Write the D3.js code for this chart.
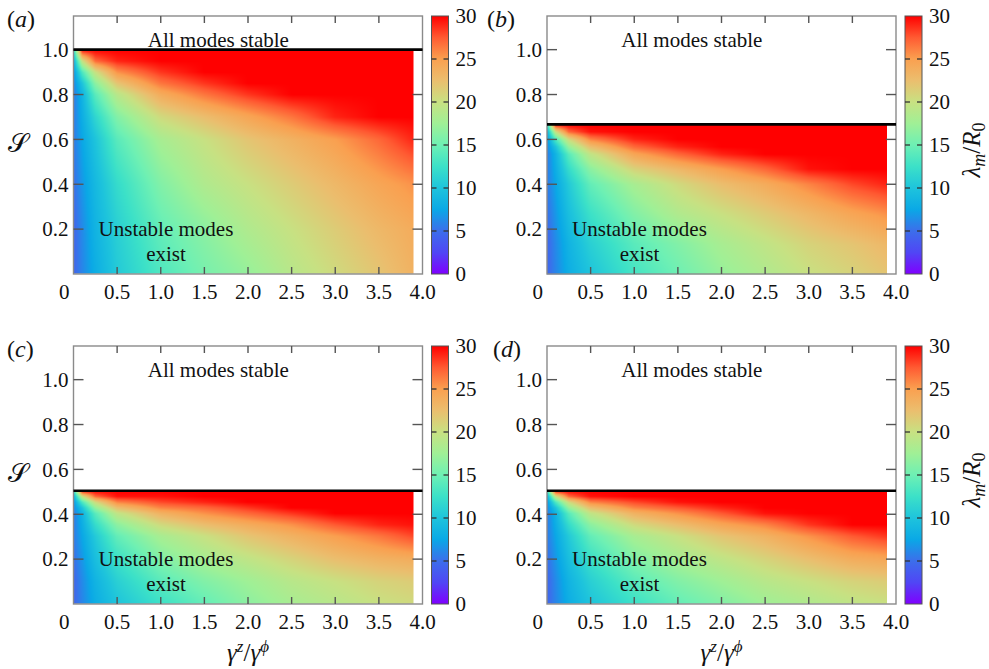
<!DOCTYPE html>
<html>
<head>
<meta charset="utf-8">
<script src="https://cdn.jsdelivr.net/npm/d3@7"></script>
<style>
body { margin: 0; background: #fff; }
text { font-family: "Liberation Serif", "Times New Roman", serif; fill: #111; }
</style>
</head>
<body>
<div id="chart"></div>
<script>
var xCols = [0, 0.1, 0.25, 0.5, 1.0, 1.5, 2.0, 2.5, 3.0, 3.5, 3.9];
var uRows = [0, 0.2, 0.4, 0.6, 0.7, 0.8, 0.85, 0.9, 0.95, 1.0];

var panelLetters = ["a", "b", "c", "d"];
var stabilityLimits = [1.0, 0.667, 0.505, 0.505];

var gridA = [
	[4.5, 6.0, 8.0, 10.5, 13.5, 15.5, 17.0, 19.0, 20.5, 22.0, 23.5],
	[4.5, 6.2, 8.5, 11.0, 14.5, 16.5, 18.5, 20.0, 21.5, 23.0, 24.0],
	[5.0, 6.8, 9.0, 12.0, 16.0, 18.5, 20.0, 21.5, 23.0, 24.5, 25.5],
	[5.5, 7.5, 10.0, 14.0, 18.0, 20.0, 22.0, 23.5, 25.0, 27.0, 29.0],
	[5.5, 8.0, 11.5, 16.0, 20.5, 22.5, 24.5, 26.5, 29.0, 30, 30],
	[5.5, 8.5, 14.0, 19.0, 24.0, 26.5, 28.5, 30, 30, 30, 30],
	[6.0, 10.0, 16.5, 22.0, 26.5, 28.5, 30, 30, 30, 30, 30],
	[6.5, 13.5, 20.0, 25.5, 28.5, 30, 30, 30, 30, 30, 30],
	[8.0, 20.0, 27.0, 29.0, 30, 30, 30, 30, 30, 30, 30],
	[12.0, 30, 30, 30, 30, 30, 30, 30, 30, 30, 30]
];
var gridB = [
	[4.5, 6.0, 8.0, 10.0, 13.0, 15.0, 17.0, 18.5, 20.0, 21.0, 22.0],
	[4.5, 6.2, 8.5, 11.0, 14.0, 16.0, 18.0, 19.5, 21.0, 22.0, 23.0],
	[5.0, 6.8, 9.5, 12.5, 16.0, 18.5, 20.0, 21.5, 23.0, 24.5, 25.5],
	[5.5, 7.5, 10.5, 14.5, 18.0, 20.5, 22.5, 24.0, 26.0, 28.0, 29.0],
	[5.5, 8.0, 12.0, 16.5, 21.0, 23.0, 25.0, 27.0, 29.5, 30, 30],
	[5.5, 8.5, 14.0, 19.5, 24.5, 27.0, 29.0, 30, 30, 30, 30],
	[6.0, 10.0, 17.0, 22.5, 27.0, 29.0, 30, 30, 30, 30, 30],
	[6.5, 13.5, 20.5, 26.0, 29.0, 30, 30, 30, 30, 30, 30],
	[8.0, 20.0, 27.0, 29.5, 30, 30, 30, 30, 30, 30, 30],
	[12.0, 30, 30, 30, 30, 30, 30, 30, 30, 30, 30]
];
var gridC = [
	[4.5, 6.0, 8.0, 10.0, 12.5, 14.5, 16.5, 18.0, 19.0, 20.0, 20.5],
	[4.5, 6.2, 8.5, 11.0, 14.0, 16.0, 17.5, 19.0, 20.0, 21.0, 21.5],
	[5.0, 6.8, 9.5, 12.5, 16.0, 18.0, 19.5, 21.0, 22.5, 23.5, 24.0],
	[5.5, 7.5, 10.5, 14.5, 18.0, 20.0, 22.0, 23.5, 25.0, 26.5, 28.0],
	[5.5, 8.0, 12.0, 16.5, 20.5, 22.5, 24.0, 25.5, 27.5, 29.0, 29.5],
	[5.5, 8.5, 14.0, 19.5, 23.5, 25.5, 27.0, 28.5, 30, 30, 30],
	[6.0, 10.0, 17.0, 22.5, 26.0, 27.0, 28.5, 30, 30, 30, 30],
	[6.5, 13.5, 20.5, 26.0, 28.0, 29.0, 30, 30, 30, 30, 30],
	[8.0, 20.0, 27.0, 29.5, 29.5, 30, 30, 30, 30, 30, 30],
	[12.0, 30, 30, 30, 30, 30, 30, 30, 30, 30, 30]
];
var gridD = [
	[4.5, 6.0, 8.0, 10.0, 12.5, 14.5, 16.0, 17.5, 18.5, 19.5, 20.0],
	[4.5, 6.2, 8.5, 11.0, 14.0, 16.0, 17.5, 19.0, 20.0, 21.0, 21.5],
	[5.0, 6.8, 9.5, 12.5, 16.0, 18.0, 19.5, 21.0, 22.5, 24.0, 24.5],
	[5.5, 7.5, 10.5, 14.5, 18.0, 20.0, 22.0, 23.5, 25.5, 27.5, 28.5],
	[5.5, 8.0, 12.0, 16.5, 20.5, 22.5, 24.5, 26.0, 28.5, 30, 30],
	[5.5, 8.5, 14.0, 19.5, 23.5, 25.5, 27.5, 29.5, 30, 30, 30],
	[6.0, 10.0, 17.0, 22.5, 26.0, 27.5, 29.0, 30, 30, 30, 30],
	[6.5, 13.5, 20.5, 26.0, 28.0, 29.5, 30, 30, 30, 30, 30],
	[8.0, 20.0, 27.0, 29.5, 30, 30, 30, 30, 30, 30, 30],
	[12.0, 30, 30, 30, 30, 30, 30, 30, 30, 30, 30]
];
var grids = [gridA, gridB, gridC, gridD];

//Ticks
var xTicks = [0, 0.5, 1.0, 1.5, 2.0, 2.5, 3.0, 3.5, 4.0];
var xTickLabels = ["0", "0.5", "1.0", "1.5", "2.0", "2.5", "3.0", "3.5", "4.0"];
var yTicks = [0.2, 0.4, 0.6, 0.8, 1.0];
var yTickLabels = ["0.2", "0.4", "0.6", "0.8", "1.0"];
var cbTicks = [0, 5, 10, 15, 20, 25, 30];

//Rainbow colour stops
var colorDomain = [0, 2.5, 5, 7.5, 10, 12.5, 15, 17.5, 20, 22.5, 25, 27.5, 30];
var colorRange = ["#7f00ff", "#5046f5", "#3c6eeb", "#0aa8e6", "#1ec4dc", "#3ce1c8", "#6ef0b4", "#a0f096", "#c8e182", "#ebbe6e", "#faa050", "#ff5a32", "#ff0000"];
var color = d3.scaleLinear().domain(colorDomain).range(colorRange).clamp(true);

//Standard margin praxis
var totalWidth = 989, totalHeight = 669;
var plotWidth = 349, plotHeight = 258;
var colLeft = [73.5, 547], rowTop = [16, 346];

var svg = d3.select("#chart")
	.append("svg")
	.attr("width", totalWidth)
	.attr("height", totalHeight);

//Colorbar gradient
var defs = svg.append("defs");
var grad = defs.append("linearGradient")
	.attr("id", "cbGrad")
	.attr("x1", 0).attr("y1", 1).attr("x2", 0).attr("y2", 0);
for (var k = 0; k <= 60; k++) {
	grad.append("stop")
		.attr("offset", (k / 60))
		.attr("stop-color", color(30 * k / 60));
}

//Find the cell and fraction of v in arr
function locate(arr, v) {
	var i = d3.bisectRight(arr, v) - 1;
	if (i < 0) i = 0;
	if (i > arr.length - 2) i = arr.length - 2;
	var t = (v - arr[i]) / (arr[i + 1] - arr[i]);
	return [i, Math.max(0, Math.min(1, t))];
}

function gridValue(grid, xv, uv) {
	var cx = locate(xCols, xv), cy = locate(uRows, uv);
	var i = cx[0], tx = cx[1], j = cy[0], ty = cy[1];
	var a = grid[j][i] * (1 - tx) + grid[j][i + 1] * tx;
	var b = grid[j + 1][i] * (1 - tx) + grid[j + 1][i + 1] * tx;
	return a * (1 - ty) + b * ty;
}

function drawPanel(p) {
	var col = p % 2, row = Math.floor(p / 2);
	var left = colLeft[col], top = rowTop[row];
	var sMax = stabilityLimits[p];
	var grid = grids[p];

	var x = d3.scaleLinear().domain([0, 4.0]).range([left, left + plotWidth]);
	var y = d3.scaleLinear().domain([0, 1.15]).range([top + plotHeight, top]);

	var g = svg.append("g").attr("class", "panel");

	//Heatmap drawn to a canvas then placed as an image
	var x0 = x(0), x1 = x(xCols[xCols.length - 1]);
	var y0 = y(sMax), y1 = y(0);
	var w = Math.round(x1 - x0), h = Math.round(y1 - y0);
	var canvas = document.createElement("canvas");
	canvas.width = w; canvas.height = h;
	var ctx = canvas.getContext("2d");
	var img = ctx.createImageData(w, h);
	for (var j = 0; j < h; j++) {
		var sv = y.invert(y0 + j + 0.5);
		var uv = sv / sMax;
		for (var i = 0; i < w; i++) {
			var xv = x.invert(x0 + i + 0.5);
			var c = d3.rgb(color(gridValue(grid, xv, uv)));
			var idx = (j * w + i) * 4;
			img.data[idx] = c.r; img.data[idx + 1] = c.g; img.data[idx + 2] = c.b; img.data[idx + 3] = 255;
		}
	}
	ctx.putImageData(img, 0, 0);
	g.append("image")
		.attr("x", x0).attr("y", y0)
		.attr("width", w).attr("height", h)
		.attr("preserveAspectRatio", "none")
		.attr("href", canvas.toDataURL());

	//Frame
	g.append("rect")
		.attr("x", left).attr("y", top)
		.attr("width", plotWidth).attr("height", plotHeight)
		.attr("fill", "none")
		.attr("stroke", "#8a8a8a")
		.attr("stroke-width", 1.4);

	//Inward ticks on all four sides
	var inner = xTicks.slice(1, xTicks.length - 1);
	inner.forEach(function(t) {
		g.append("line").attr("x1", x(t)).attr("x2", x(t))
			.attr("y1", top + plotHeight).attr("y2", top + plotHeight - 7)
			.attr("stroke", "#555").attr("stroke-width", 1.4);
		g.append("line").attr("x1", x(t)).attr("x2", x(t))
			.attr("y1", top).attr("y2", top + 7)
			.attr("stroke", "#555").attr("stroke-width", 1.4);
	});
	yTicks.forEach(function(t) {
		g.append("line").attr("x1", left).attr("x2", left + 10)
			.attr("y1", y(t)).attr("y2", y(t))
			.attr("stroke", "#555").attr("stroke-width", 1.4);
		g.append("line").attr("x1", left + plotWidth).attr("x2", left + plotWidth - 10)
			.attr("y1", y(t)).attr("y2", y(t))
			.attr("stroke", "#555").attr("stroke-width", 1.4);
	});

	//Stability limit line
	g.append("line")
		.attr("x1", left).attr("x2", left + plotWidth)
		.attr("y1", y(sMax)).attr("y2", y(sMax))
		.attr("stroke", "#000").attr("stroke-width", 2.6);

	//Tick labels
	xTicks.forEach(function(t, i) {
		g.append("text")
			.attr("x", i == 0 ? x(t) - 4 : x(t))
			.attr("y", top + plotHeight + 25)
			.style("text-anchor", i == 0 ? "end" : "middle")
			.style("font-size", "21px")
			.text(xTickLabels[i]);
	});
	yTicks.forEach(function(t, i) {
		g.append("text")
			.attr("x", left - 5)
			.attr("y", y(t))
			.attr("dy", "0.35em")
			.style("text-anchor", "end")
			.style("font-size", "21px")
			.text(yTickLabels[i]);
	});

	//Region annotations
	g.append("text")
		.attr("x", x(1.66)).attr("y", y(1.012))
		.style("text-anchor", "middle").style("font-size", "21px")
		.text("All modes stable");
	g.append("text")
		.attr("x", x(1.06)).attr("y", y(0.17))
		.style("text-anchor", "middle").style("font-size", "21px")
		.text("Unstable modes");
	g.append("text")
		.attr("x", x(1.06)).attr("y", y(0.058))
		.style("text-anchor", "middle").style("font-size", "21px")
		.text("exist");

	//Panel letter
	var letterX = [7, 487, 7, 493];
	var letter = g.append("text")
		.attr("x", letterX[p]).attr("y", top + 11)
		.style("font-size", "24px");
	letter.append("tspan").text("(");
	letter.append("tspan").style("font-style", "italic").text(panelLetters[p]);
	letter.append("tspan").text(")");

	//Colorbar
	var cbLeft = left + plotWidth + 9, cbWidth = 17;
	var cy = d3.scaleLinear().domain([0, 30]).range([top + plotHeight, top]);
	g.append("rect")
		.attr("x", cbLeft).attr("y", top)
		.attr("width", cbWidth).attr("height", plotHeight)
		.attr("fill", "url(#cbGrad)")
		.attr("stroke", "#555").attr("stroke-width", 1);
	cbTicks.forEach(function(t) {
		if (t > 0 && t < 30) {
			g.append("line").attr("x1", cbLeft).attr("x2", cbLeft + 5)
				.attr("y1", cy(t)).attr("y2", cy(t))
				.attr("stroke", "#333").attr("stroke-width", 1.3);
			g.append("line").attr("x1", cbLeft + cbWidth - 5).attr("x2", cbLeft + cbWidth)
				.attr("y1", cy(t)).attr("y2", cy(t))
				.attr("stroke", "#333").attr("stroke-width", 1.3);
		}
		g.append("text")
			.attr("x", cbLeft + cbWidth + 7)
			.attr("y", cy(t))
			.attr("dy", "0.35em")
			.style("font-size", "21px")
			.text(t);
	});

	//Axis titles
	if (col == 0) {
		g.append("text")
			.attr("x", 18).attr("y", top + 127)
			.attr("dy", "0.35em")
			.style("text-anchor", "middle")
			.style("font-size", "26px")
			.style("font-family", "'DejaVu Serif', serif")
			.text("\uD835\uDCAE");
	}
	if (col == 1) {
		var lab = g.append("text")
			.attr("transform", "translate(" + (cbLeft + cbWidth + 58) + "," + (top + 134) + ") rotate(-90)")
			.style("text-anchor", "middle")
			.style("font-size", "25px");
		lab.append("tspan").style("font-style", "italic").text("\u03BB");
		lab.append("tspan").style("font-style", "italic").style("font-size", "18px").attr("dy", 5).text("m");
		lab.append("tspan").attr("dy", -5).text("/");
		lab.append("tspan").style("font-style", "italic").text("R");
		lab.append("tspan").style("font-size", "18px").attr("dy", 5).text("0");
	}
	if (row == 1) {
		var xl = g.append("text")
			.attr("x", left + plotWidth / 2).attr("y", top + plotHeight + 57)
			.style("text-anchor", "middle")
			.style("font-size", "25px");
		xl.append("tspan").style("font-style", "italic").text("\u03B3");
		xl.append("tspan").style("font-style", "italic").style("font-size", "17px").attr("dy", -9).text("z");
		xl.append("tspan").attr("dy", 9).text("/");
		xl.append("tspan").style("font-style", "italic").text("\u03B3");
		xl.append("tspan").style("font-style", "italic").style("font-size", "17px").attr("dy", -9).text("\u03D5");
	}
}

for (var p = 0; p < 4; p++) drawPanel(p);
</script>
</body>
</html>
